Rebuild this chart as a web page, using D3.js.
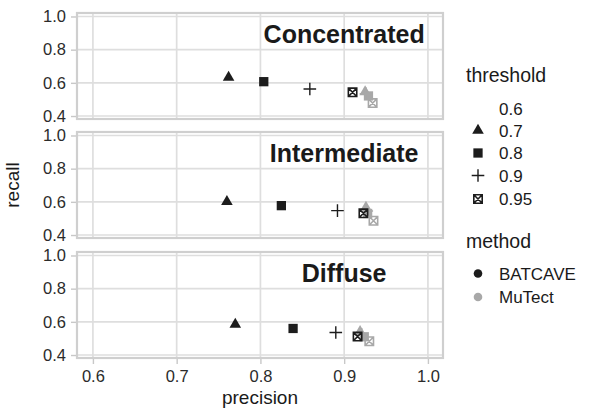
<!DOCTYPE html>
<html>
<head>
<meta charset="utf-8">
<script src="https://cdn.jsdelivr.net/npm/d3@7"></script>
<style>
  html, body { margin: 0; padding: 0; background: #fff; }
  svg { display: block; font-family: "Liberation Sans", Arial, Helvetica, sans-serif; }
</style>
</head>
<body>
<svg id="chart" width="590" height="410"></svg>
<script>
// facets, legend keys
const panels = ['Concentrated', 'Intermediate', 'Diffuse'];
const thresholds = ['0.6', '0.7', '0.8', '0.9', '0.95'];
const methods = ['BATCAVE', 'MuTect'];
const xTicks = [0.6, 0.7, 0.8, 0.9, 1.0];
const yTicks = [0.4, 0.6, 0.8, 1.0];

// values per panel, threshold order 0.7, 0.8, 0.9, 0.95 (0.6 has no mark)
const pointThresholds = ['0.7', '0.8', '0.9', '0.95'];
const batcavePrecision = [
  [0.762, 0.804, 0.859, 0.910],
  [0.760, 0.825, 0.892, 0.923],
  [0.770, 0.839, 0.890, 0.916]
];
const batcaveRecall = [
  [0.632, 0.607, 0.563, 0.543],
  [0.601, 0.577, 0.547, 0.531],
  [0.584, 0.560, 0.536, 0.511]
];
const mutectPrecision = [
  [0.925, 0.929, 0.926, 0.934],
  [0.926, 0.928, 0.927, 0.935],
  [0.919, 0.924, 0.921, 0.930]
];
const mutectRecall = [
  [0.545, 0.521, 0.535, 0.478],
  [0.567, 0.530, 0.545, 0.486],
  [0.541, 0.510, 0.525, 0.483]
];

const colorByMethod = {'BATCAVE': '#1c1c1c', 'MuTect': '#a8a8a8'};

const svg = d3.select('#chart');
const panelLeft = 77, panelW = 366, panelH = 106;
const panelTops = [13, 132, 252];

const x = d3.scaleLinear().domain([0.581, 1.018]).range([0, panelW]);
const y = d3.scaleLinear().domain([0.382, 1.021]).range([panelH, 0]);

// shape paths for the threshold scale
function shapePath(t){
  if(t === '0.7') return d3.symbol(d3.symbolTriangle, 58)();
  if(t === '0.8') return d3.symbol(d3.symbolSquare, 86)();
  if(t === '0.9') return 'M-6.3,0H6.3M0,-6.3V6.3';
  if(t === '0.95') return 'M-4.2,-4.2H4.2V4.2H-4.2Z M-4.2,-4.2L4.2,4.2M4.2,-4.2L-4.2,4.2';
  return null;
}
function drawShape(g, t, color){
  const p = shapePath(t);
  if(!p) return;
  const path = g.append('path').attr('d', p);
  if(t === '0.9' || t === '0.95'){
    path.attr('fill', 'none').attr('stroke', color).attr('stroke-width', t === '0.9' ? 1.4 : 1.6);
  } else {
    path.attr('fill', color);
  }
}

const data = [];
panels.forEach((p, pi) => {
  pointThresholds.forEach((t, ti) => {
    data.push({panel: pi, threshold: t, method: 'BATCAVE', precision: batcavePrecision[pi][ti], recall: batcaveRecall[pi][ti]});
    data.push({panel: pi, threshold: t, method: 'MuTect', precision: mutectPrecision[pi][ti], recall: mutectRecall[pi][ti]});
  });
});

panels.forEach((name, pi) => {
  const g = svg.append('g').attr('transform', `translate(${panelLeft},${panelTops[pi]})`);
  g.append('rect').attr('width', panelW).attr('height', panelH).attr('fill', '#fff');

  g.append('g').selectAll('line.gx').data(xTicks).enter().append('line')
    .attr('x1', d => x(d)).attr('x2', d => x(d)).attr('y1', 0).attr('y2', panelH)
    .attr('stroke', '#dedede').attr('stroke-width', 1.7);
  g.append('g').selectAll('line.gy').data(yTicks).enter().append('line')
    .attr('y1', d => y(d)).attr('y2', d => y(d)).attr('x1', 0).attr('x2', panelW)
    .attr('stroke', '#dedede').attr('stroke-width', 1.7);

  g.append('text').text(name)
    .attr('x', x(0.9)).attr('y', y(0.9)).attr('dy', '0.38em')
    .attr('text-anchor', 'middle').attr('font-weight', 'bold').attr('font-size', 25).attr('fill', '#1a1a1a');

  const pts = g.append('g');
  data.filter(d => d.panel === pi).forEach(d => {
    const s = pts.append('g').attr('transform', `translate(${x(d.precision)},${y(d.recall)})`);
    drawShape(s, d.threshold, colorByMethod[d.method]);
  });

  g.append('rect').attr('width', panelW).attr('height', panelH)
    .attr('fill', 'none').attr('stroke', '#cfcfcf').attr('stroke-width', 2.2);

  const ya = svg.append('g').attr('transform', `translate(${panelLeft - 1},${panelTops[pi]})`)
    .call(d3.axisLeft(y).tickValues(yTicks).tickFormat(d3.format('.1f')).tickSize(5).tickPadding(5));
  ya.select('.domain').remove();
  ya.selectAll('line').attr('stroke', '#c8c8c8').attr('stroke-width', 1.4);
  ya.selectAll('text').attr('font-size', 16.5).attr('fill', '#2b2b2b').style('font-family', 'inherit');
});

const xa = svg.append('g').attr('transform', `translate(${panelLeft},${panelTops[2] + panelH + 1})`)
  .call(d3.axisBottom(x).tickValues(xTicks).tickFormat(d3.format('.1f')).tickSize(5).tickPadding(6));
xa.select('.domain').remove();
xa.selectAll('line').attr('stroke', '#c8c8c8').attr('stroke-width', 1.4);
xa.selectAll('text').attr('font-size', 16.5).attr('fill', '#2b2b2b').style('font-family', 'inherit');

svg.append('text').text('precision').attr('x', panelLeft + panelW / 2).attr('y', 404)
  .attr('text-anchor', 'middle').attr('font-size', 19).attr('fill', '#1a1a1a');
svg.append('text').text('recall').attr('transform', `translate(19,${panelTops[1] + panelH / 2}) rotate(-90)`)
  .attr('text-anchor', 'middle').attr('font-size', 19).attr('fill', '#1a1a1a');

// legends
const legend = svg.append('g');
legend.append('text').text('threshold').attr('x', 466).attr('y', 82).attr('font-size', 19.5).attr('fill', '#1a1a1a');
const thrY = [108.5, 130.5, 153, 175.5, 199];
thresholds.forEach((t, i) => {
  const s = legend.append('g').attr('transform', `translate(478,${thrY[i]})`);
  drawShape(s, t, '#1c1c1c');
  legend.append('text').text(t).attr('x', 499).attr('y', thrY[i]).attr('dy', '0.36em')
    .attr('font-size', 17).attr('fill', '#1a1a1a');
});
legend.append('text').text('method').attr('x', 466).attr('y', 248).attr('font-size', 19.5).attr('fill', '#1a1a1a');
const methY = [273.5, 297];
methods.forEach((m, i) => {
  legend.append('circle').attr('cx', 478).attr('cy', methY[i]).attr('r', 4.3).attr('fill', colorByMethod[m]);
  legend.append('text').text(m).attr('x', 499).attr('y', methY[i]).attr('dy', '0.36em')
    .attr('font-size', 17).attr('fill', '#1a1a1a');
});
</script>
</body>
</html>
